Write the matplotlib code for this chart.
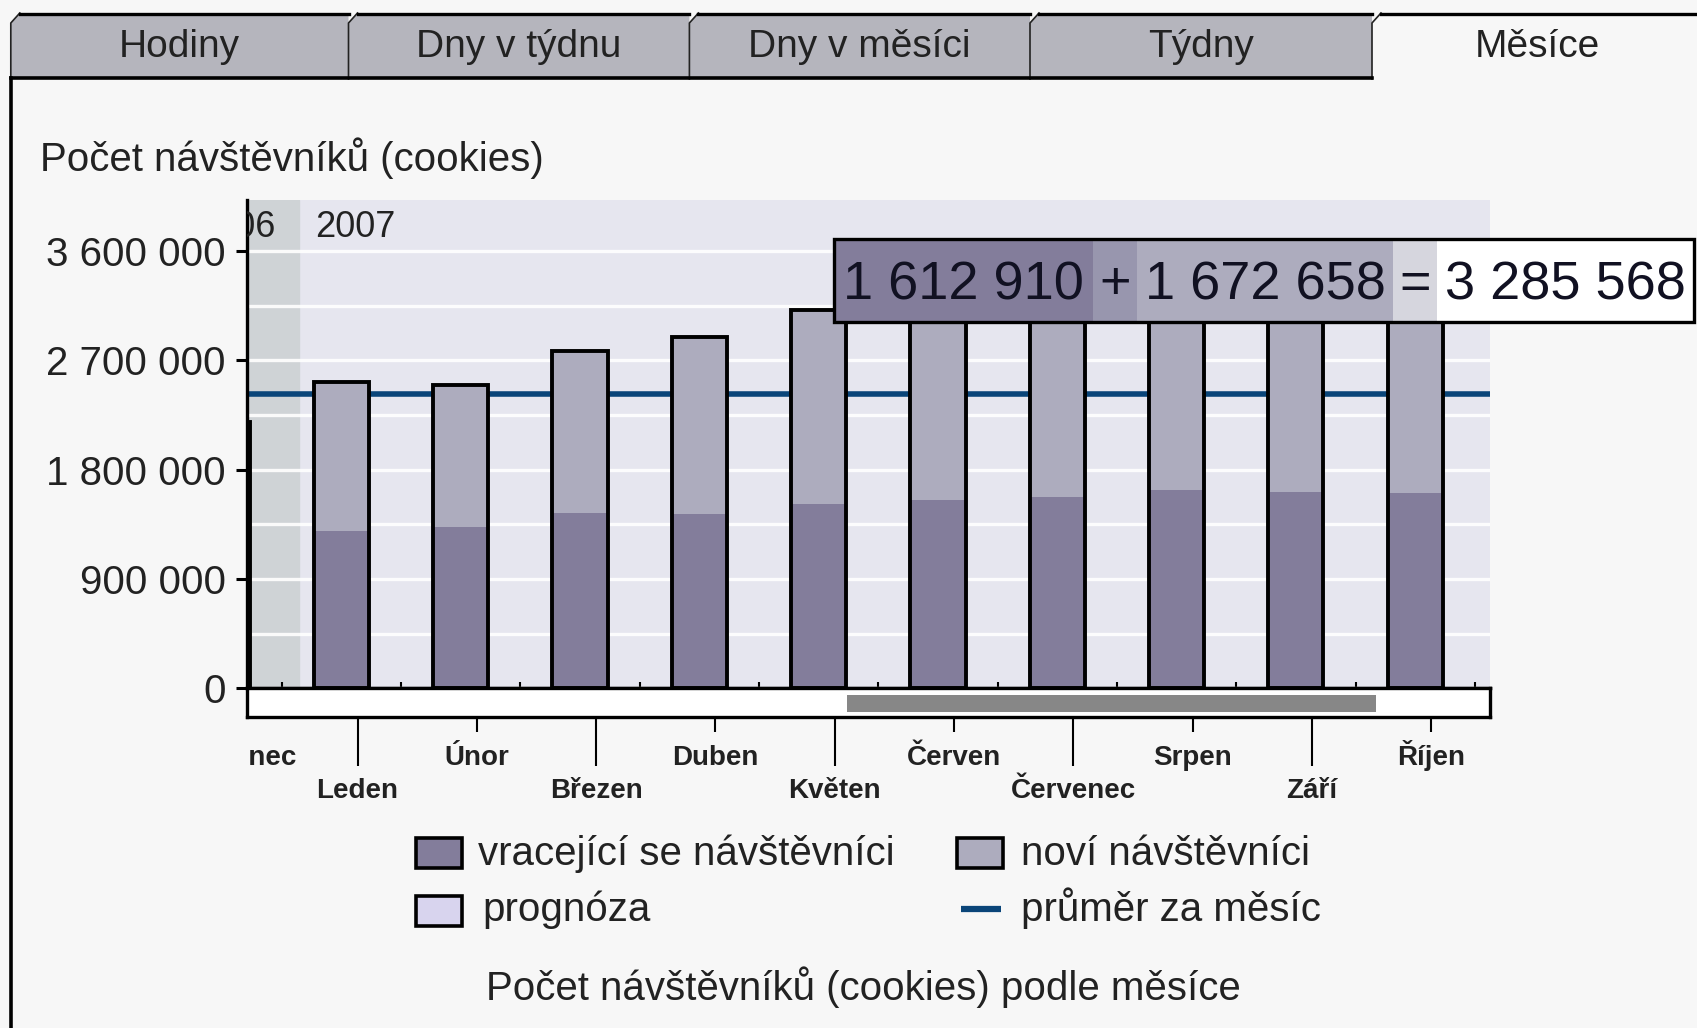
import numpy as np
import matplotlib.pyplot as plt
from matplotlib.patches import Rectangle, Polygon
from matplotlib.ticker import FixedLocator, MultipleLocator, FuncFormatter, NullFormatter

plt.rcParams['font.family'] = ['Liberation Sans', 'DejaVu Sans']

# ----------------------------
# Data
# ----------------------------
months = ["Prosinec", "Leden", "Únor", "Březen", "Duben", "Květen",
          "Červen", "Červenec", "Srpen", "Září", "Říjen"]
returning = [1100000, 1298000, 1331000, 1441000, 1436000, 1520000,
             1553000, 1578000, 1636000, 1612910, 1611000]
new = [1095000, 1224000, 1164000, 1334000, 1457000, 1598000,
       1627000, 1572000, 1604000, 1672658, 1699000]
monthly_avg = 2421000
y_ticks = [0, 900000, 1800000, 2700000, 3600000]
tabs = ["Hodiny", "Dny v týdnu", "Dny v měsíci", "Týdny", "Měsíce"]
legend_labels = ["vracející se návštěvníci", "noví návštěvníci",
                 "prognóza", "průměr za měsíc"]
hover_idx = 9  # tooltip shows Září

# colours
c_ret = "#837d9b"
c_new = "#adacbe"
c_prog = "#d8d4ee"
c_avg = "#0a4579"
c_plot = "#e6e6ef"
c_bg = "#f7f7f7"
c_tab = "#b5b5bd"

W, H = 1697, 1028
fig = plt.figure(figsize=(W / 100, H / 100), dpi=100, facecolor=c_bg)


def box(l, t, r, b):
    return [l / W, 1 - b / H, (r - l) / W, (b - t) / H]


def fmt(v):
    return f"{int(v):,}".replace(",", " ")


x = np.arange(len(months))
returning = np.array(returning)
new = np.array(new)
total = returning + new
xlim = (0.206, 10.63)

# ----------------------------
# background layer: tabs, frame, texts, legend
# ----------------------------
bg = fig.add_axes([0, 0, 1, 1])
bg.set_xlim(0, W)
bg.set_ylim(H, 0)
bg.axis("off")

tab_edges = [10.8, 348.5, 689.4, 1030, 1372, W + 5]
for i, name in enumerate(tabs):
    l, r = tab_edges[i], tab_edges[i + 1]
    active = i == len(tabs) - 1
    poly = [(l, 79), (l, 23), (l + 9, 13), (r, 13), (r, 79)]
    bg.add_patch(Polygon(poly, closed=True, facecolor=c_bg if active else c_tab,
                         edgecolor="none"))
    bg.plot([l, l, l + 9], [79, 23, 13], color="#222222", lw=1.2)
    bg.plot([l + 9, r], [13.5, 13.5], color="black", lw=2.4)
    bg.text((l + r) / 2, 57, name, ha="center", va="baseline", fontsize=28,
            color="#222222")
bg.plot([tab_edges[0], tab_edges[4]], [78, 78], color="black", lw=2.6)
bg.plot([11, 11], [78, H], color="black", lw=2.6)

bg.text(40, 171, "Počet návštěvníků (cookies)", ha="left", va="baseline",
        fontsize=29, color="#222222")

# legend
sq = [(415.6, 838), (957, 838), (415.6, 896)]
sq_col = [c_ret, c_new, c_prog]
for (lx, ty), col in zip(sq, sq_col):
    bg.add_patch(Rectangle((lx, ty), 46, 30, facecolor=col, edgecolor="black", lw=2.6))
bg.plot([961, 1001], [909, 909], color=c_avg, lw=4.5, solid_capstyle="butt")
leg_pos = [(478, 865), (1021, 865), (482, 921), (1021, 921)]
for (tx, ty), lab in zip(leg_pos, legend_labels):
    bg.text(tx, ty, lab, ha="left", va="baseline", fontsize=29, color="#222222")

bg.text(863, 1000, "Počet návštěvníků (cookies) podle měsíce", ha="center",
        va="baseline", fontsize=29, color="#222222")

# ----------------------------
# main plot
# ----------------------------
ax = fig.add_axes(box(246.8, 200.2, 1490.3, 688.3))
ax.set_facecolor(c_plot)
ax.set_xlim(*xlim)
ax.set_ylim(0, 4020000)

ax.axvspan(-1, 0.641, color="#cfd3d6", zorder=0)
ax.yaxis.set_major_locator(FixedLocator(y_ticks))
ax.yaxis.set_minor_locator(MultipleLocator(450000))
ax.grid(which="both", axis="y", color="white", lw=2.4, alpha=0.9)
ax.set_axisbelow(True)

ax.axhline(monthly_avg, color=c_avg, lw=4, zorder=1)

bw = 0.463
ax.bar(x, returning, width=bw, color=c_ret, zorder=2)
ax.bar(x, new, width=bw, bottom=returning, color=c_new, zorder=2)
ax.bar(x, total, width=bw, fill=False, edgecolor="black", lw=2.8, zorder=3)

year_y = (688.3 - 237) / 488.1
ax.text(0.45, year_y, "2006", transform=ax.get_xaxis_transform(),
        ha="right", va="baseline", fontsize=26, color="#222222", clip_on=True)
ax.text(0.779, year_y, "2007", transform=ax.get_xaxis_transform(),
        ha="left", va="baseline", fontsize=26, color="#222222")

for side in ["top", "right"]:
    ax.spines[side].set_visible(False)
for side in ["left", "bottom"]:
    ax.spines[side].set_color("black")
    ax.spines[side].set_linewidth(2.4)

ax.yaxis.set_major_formatter(FuncFormatter(lambda v, p: fmt(v)))
ax.tick_params(axis="y", which="major", length=8, width=2.2, pad=7,
               labelsize=29, labelcolor="#222222")
ax.tick_params(axis="y", which="minor", length=0)
ax.set_xticks(x + 0.5)
ax.xaxis.set_major_formatter(NullFormatter())
ax.tick_params(axis="x", direction="in", length=4, width=1.5)

# ----------------------------
# scroll bar strip + month labels
# ----------------------------
sax = fig.add_axes(box(246.8, 688.3, 1490.3, 716.7))
sax.set_facecolor("white")
sax.set_xlim(*xlim)
sax.set_ylim(0, 1)
for s in sax.spines.values():
    s.set_color("black")
    s.set_linewidth(2.4)
sax.add_patch(Rectangle((5.24, 0.18), 4.43, 0.6, facecolor="#878787", edgecolor="none"))
sax.set_yticks([])
label_x = x + 0.134
sax.xaxis.set_major_locator(FixedLocator(label_x[1::2]))
sax.xaxis.set_minor_locator(FixedLocator(label_x[0::2]))
sax.xaxis.set_major_formatter(NullFormatter())
sax.tick_params(axis="x", which="major", length=35.5, width=1.5, color="black")
sax.tick_params(axis="x", which="minor", length=10.8, width=1.5, color="black")

lax = fig.add_axes(box(246.8, 716.7, 1490.3, 810))
lax.set_xlim(*xlim)
lax.set_ylim(810, 716.7)
lax.axis("off")
for i, m in enumerate(months):
    yb = 765 if i % 2 == 0 else 798
    lax.text(label_x[i], yb, m, ha="center", va="baseline", fontsize=20,
             fontweight="bold", color="#222222", clip_on=True)

# ----------------------------
# hover tooltip
# ----------------------------
tax = fig.add_axes([0, 0, 1, 1], zorder=10)
tax.set_xlim(0, W)
tax.set_ylim(H, 0)
tax.axis("off")
seg = [834, 1093, 1137, 1393, 1437, 1694]
seg_col = [c_ret, "#9896ae", c_new, "#d6d6de", "white"]
seg_txt = [fmt(returning[hover_idx]), "+", fmt(new[hover_idx]), "=",
           fmt(total[hover_idx])]
for i in range(5):
    tax.add_patch(Rectangle((seg[i], 239), seg[i + 1] - seg[i], 83,
                            facecolor=seg_col[i], edgecolor="none"))
    tax.text((seg[i] + seg[i + 1]) / 2, 299, seg_txt[i], ha="center",
             va="baseline", fontsize=39, color="#111122")
tax.add_patch(Rectangle((seg[0], 239), seg[-1] - seg[0], 83, fill=False,
                        edgecolor="black", lw=2.4))

fig.savefig("out.png", dpi=100, facecolor=c_bg)
